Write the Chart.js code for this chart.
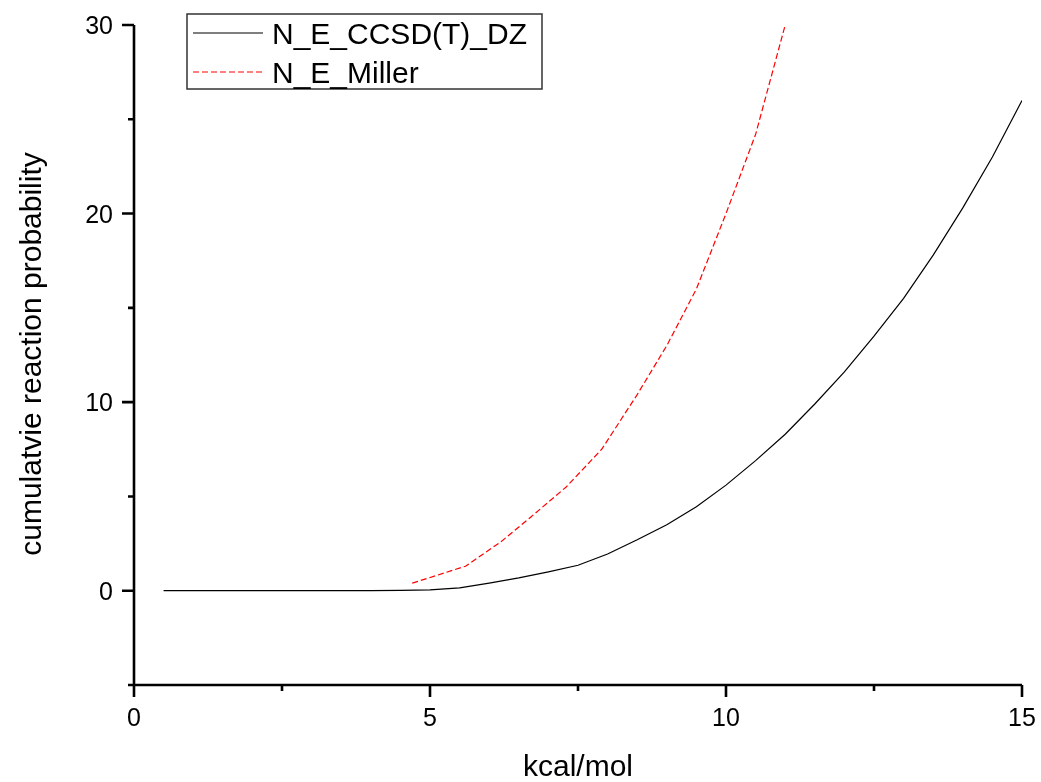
<!DOCTYPE html>
<html>
<head>
<meta charset="utf-8">
<script src="https://cdn.jsdelivr.net/npm/chart.js@4.4.1/dist/chart.umd.min.js"></script>
<style>
  html, body { margin: 0; padding: 0; background: #fff; }
  #wrap { width: 1041px; height: 782px; position: relative; }
</style>
</head>
<body>
<div id="wrap"><canvas id="cumChart"></canvas></div>
<script>
// energies (kcal/mol) and cumulative reaction probability
const ccsdX = [0.5, 1, 1.5, 2, 2.5, 3, 3.5, 4, 4.5, 5, 5.5, 6, 6.5, 7, 7.5, 8, 8.5, 9, 9.5, 10, 10.5, 11, 11.5, 12, 12.5, 13, 13.5, 14, 14.5, 15];
const ccsdY = [0, 0, 0, 0, 0, 0, 0, 0.01, 0.02, 0.04, 0.15, 0.4, 0.68, 1.0, 1.35, 1.95, 2.7, 3.5, 4.45, 5.6, 6.9, 8.3, 9.9, 11.6, 13.5, 15.5, 17.8, 20.3, 23.0, 26.0];

const millerX = [4.7, 5.6, 6.2, 6.7, 7.3, 7.9, 8.5, 9.0, 9.5, 10.0, 10.5, 11.0];
const millerY = [0.4, 1.3, 2.6, 3.9, 5.5, 7.5, 10.4, 13.0, 16.0, 20.0, 24.2, 30.0];

const xTicks = [0, 5, 10, 15];
const xMinor = [2.5, 7.5, 12.5];
const yTicks = [0, 10, 20, 30];
const yMinor = [-5, 5, 15, 25];

const seriesNames = ["N_E_CCSD(T)_DZ", "N_E_Miller"];
const xTitle = "kcal/mol";
const yTitle = "cumulatvie reaction probability";

const FONT = "'Liberation Sans', Arial, sans-serif";

function toPoints(xs, ys) {
  return xs.map((x, i) => ({ x: x, y: ys[i] }));
}

// axes, ticks, titles and legend in the Origin style
const originAxes = {
  id: "originAxes",
  afterDraw(chart) {
    const ctx = chart.ctx;
    const xs = chart.scales.x;
    const ys = chart.scales.y;
    const area = chart.chartArea;

    ctx.save();
    ctx.strokeStyle = "#000";
    ctx.fillStyle = "#000";
    ctx.lineWidth = 2.6;
    ctx.lineCap = "butt";

    // axis lines
    ctx.beginPath();
    ctx.moveTo(area.left, area.top);
    ctx.lineTo(area.left, area.bottom);
    ctx.moveTo(area.left, area.bottom);
    ctx.lineTo(area.right, area.bottom);
    ctx.stroke();

    // x ticks
    ctx.beginPath();
    xTicks.forEach(v => {
      const px = xs.getPixelForValue(v);
      ctx.moveTo(px, area.bottom);
      ctx.lineTo(px, area.bottom + 12);
    });
    xMinor.forEach(v => {
      const px = xs.getPixelForValue(v);
      ctx.moveTo(px, area.bottom);
      ctx.lineTo(px, area.bottom + 6);
    });
    // y ticks
    yTicks.forEach(v => {
      const py = ys.getPixelForValue(v);
      ctx.moveTo(area.left, py);
      ctx.lineTo(area.left - 12, py);
    });
    yMinor.forEach(v => {
      const py = ys.getPixelForValue(v);
      ctx.moveTo(area.left, py);
      ctx.lineTo(area.left - 6, py);
    });
    ctx.stroke();

    // tick labels
    ctx.font = "25px " + FONT;
    ctx.textBaseline = "alphabetic";
    ctx.textAlign = "center";
    xTicks.forEach(v => {
      ctx.fillText(String(v), xs.getPixelForValue(v), area.bottom + 41);
    });
    ctx.textAlign = "right";
    yTicks.forEach(v => {
      ctx.fillText(String(v), area.left - 21, ys.getPixelForValue(v) + 9);
    });

    // axis titles
    ctx.font = "30px " + FONT;
    ctx.textAlign = "center";
    ctx.fillText(xTitle, 578, 776);
    ctx.save();
    ctx.translate(41, 354);
    ctx.rotate(-Math.PI / 2);
    ctx.fillText(yTitle, 0, 0);
    ctx.restore();

    // legend box
    ctx.lineWidth = 1.5;
    ctx.strokeStyle = "#333";
    ctx.strokeRect(187, 14, 355, 75);
    ctx.font = "30px " + FONT;
    ctx.textAlign = "left";
    chart.data.datasets.forEach((ds, i) => {
      const ly = 33 + i * 39;
      ctx.beginPath();
      ctx.strokeStyle = ds.borderColor;
      ctx.lineWidth = 1.2;
      ctx.setLineDash(ds.borderDash || []);
      ctx.moveTo(193, ly);
      ctx.lineTo(263, ly);
      ctx.stroke();
      ctx.setLineDash([]);
      ctx.fillStyle = "#000";
      ctx.fillText(ds.label, 272, ly + 10.5);
    });

    ctx.restore();
  }
};

const chart = new Chart(document.getElementById("cumChart"), {
  type: "line",
  data: {
    datasets: [{
      label: seriesNames[0],
      data: toPoints(ccsdX, ccsdY),
      borderColor: "#000000",
      borderWidth: 1.2,
      pointRadius: 0,
      tension: 0,
      fill: false
    }, {
      label: seriesNames[1],
      data: toPoints(millerX, millerY),
      borderColor: "#ff0000",
      borderWidth: 1.2,
      borderDash: [6, 3],
      pointRadius: 0,
      tension: 0,
      fill: false
    }]
  },
  options: {
    responsive: true,
    maintainAspectRatio: false,
    animation: false,
    layout: { padding: { left: 134, top: 25, right: 19, bottom: 97 } },
    plugins: {
      legend: { display: false },
      tooltip: { enabled: false }
    },
    scales: {
      x: { type: "linear", min: 0, max: 15, display: false },
      y: { type: "linear", min: -5, max: 30, display: false }
    }
  },
  plugins: [originAxes]
});
</script>
</body>
</html>
